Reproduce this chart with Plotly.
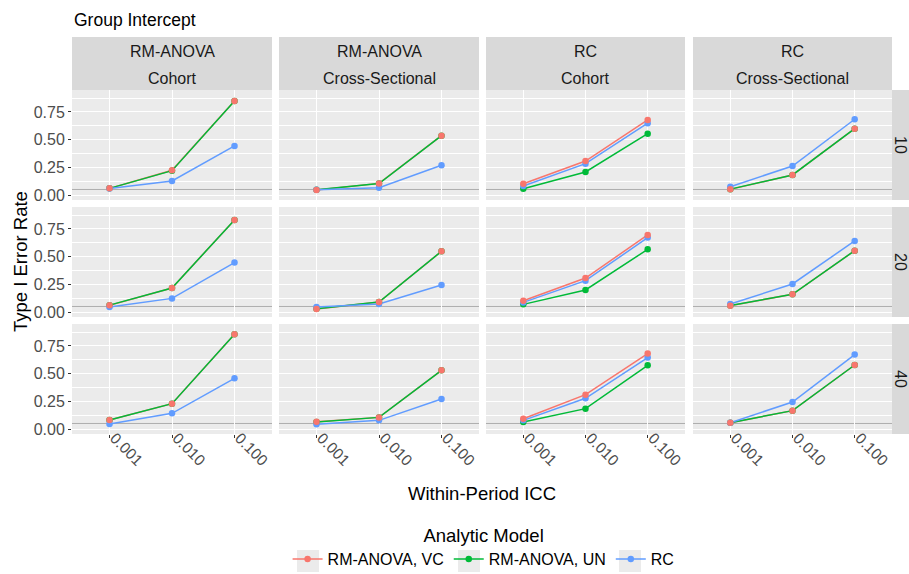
import plotly.graph_objects as go

W, H = 909, 574

# ---------------- data ----------------
icc_levels = ["0.001", "0.010", "0.100"]
method_labels = ["RM-ANOVA", "RM-ANOVA", "RC", "RC"]
design_labels = ["Cohort", "Cross-Sectional", "Cohort", "Cross-Sectional"]
period_labels = ["10", "20", "40"]
model_names = ["RM-ANOVA, VC", "RM-ANOVA, UN", "RC"]

# rows = periods (10, 20, 40); columns = facets in the order above
vc_rate = [
    [[0.060, 0.223, 0.849], [0.045, 0.105, 0.536], [0.102, 0.307, 0.678], [0.051, 0.181, 0.599]],
    [[0.060, 0.217, 0.831], [0.027, 0.090, 0.548], [0.102, 0.307, 0.696], [0.057, 0.160, 0.554]],
    [[0.081, 0.229, 0.855], [0.066, 0.105, 0.530], [0.093, 0.310, 0.681], [0.057, 0.166, 0.578]],
]
un_rate = [
    [[0.060, 0.220, 0.849], [0.047, 0.103, 0.536], [0.057, 0.208, 0.554], [0.053, 0.181, 0.599]],
    [[0.062, 0.217, 0.831], [0.030, 0.090, 0.548], [0.069, 0.199, 0.566], [0.059, 0.160, 0.554]],
    [[0.081, 0.229, 0.855], [0.063, 0.105, 0.530], [0.063, 0.184, 0.575], [0.057, 0.166, 0.578]],
]
rc_rate = [
    [[0.058, 0.127, 0.443], [0.048, 0.066, 0.268], [0.081, 0.283, 0.648], [0.075, 0.262, 0.684]],
    [[0.045, 0.123, 0.446], [0.045, 0.072, 0.244], [0.087, 0.283, 0.672], [0.072, 0.253, 0.642]],
    [[0.045, 0.142, 0.458], [0.042, 0.078, 0.271], [0.078, 0.277, 0.645], [0.057, 0.244, 0.672]],
]
nominal_alpha = 0.05
y_tick_vals = [0.0, 0.25, 0.50, 0.75]
y_tick_text = ["0.00", "0.25", "0.50", "0.75"]
y_minor_vals = [0.125, 0.375, 0.625, 0.875]

# ---------------- style ----------------
colors = ["#F8766D", "#00BA38", "#619CFF"]
FONT = "Liberation Sans, Arial, Helvetica, sans-serif"
col_px = [(72, 272), (279, 479), (486, 685), (693, 892)]
row_px = [(90, 200), (207, 317), (324, 434)]
strip_top = (37, 90)
right_strip = (892, 915)
legend_key_px = [(297, 319), (458, 480), (619, 641)]
legend_key_y = (550, 572)


def fx(p):
    return p / W


def fy(p):
    return 1 - p / H


series = [vc_rate, un_rate, rc_rate]
fig = go.Figure()
layout = {}
shapes = []
annotations = []

for r in range(3):
    for c in range(4):
        idx = r * 4 + c + 1
        xn = "x" if idx == 1 else f"x{idx}"
        yn = "y" if idx == 1 else f"y{idx}"
        # lines: VC, UN, RC
        for s in range(3):
            fig.add_trace(go.Scatter(
                x=icc_levels, y=series[s][r][c], mode="lines",
                line=dict(color=colors[s], width=1.5),
                xaxis=xn, yaxis=yn, showlegend=False, hoverinfo="skip"))
        # points: UN, RC, VC (VC on top)
        for s in [1, 2, 0]:
            fig.add_trace(go.Scatter(
                x=icc_levels, y=series[s][r][c], mode="markers",
                marker=dict(color=colors[s], size=6.5),
                xaxis=xn, yaxis=yn, showlegend=False,
                name=model_names[s]))
        bottom = r == 2
        left = c == 0
        layout["xaxis" if idx == 1 else f"xaxis{idx}"] = dict(
            domain=[fx(col_px[c][0]), fx(col_px[c][1])],
            anchor=yn, type="category", categoryorder="array",
            categoryarray=icc_levels, range=[-0.6, 2.6],
            showgrid=True, gridcolor="white", gridwidth=1.4,
            zeroline=False, showline=False,
            ticks="outside" if bottom else "", ticklen=3, tickwidth=1,
            tickcolor="#333333", showticklabels=bottom, tickangle=45,
            ticklabelstandoff=-15, ticklabelshift=5,
            tickfont=dict(family=FONT, size=15.5, color="#4D4D4D"),
            automargin=False, fixedrange=True)
        layout["yaxis" if idx == 1 else f"yaxis{idx}"] = dict(
            domain=[fy(row_px[r][1]), fy(row_px[r][0])],
            anchor=xn, range=[-0.045, 0.948],
            tickvals=y_tick_vals, ticktext=y_tick_text,
            showgrid=True, gridcolor="white", gridwidth=1.4,
            minor=dict(tickvals=y_minor_vals, showgrid=True,
                       gridcolor="white", gridwidth=0.7, ticks=""),
            zeroline=False, showline=False,
            ticks="outside" if left else "", ticklen=3, tickwidth=1,
            tickcolor="#333333", showticklabels=left,
            tickfont=dict(family=FONT, size=16, color="#4D4D4D"),
            automargin=False, fixedrange=True)
        shapes.append(dict(
            type="line", xref=f"{xn} domain", yref=yn, x0=0, x1=1,
            y0=nominal_alpha, y1=nominal_alpha, layer="below",
            line=dict(color="#ADADAD", width=1)))

# top strips
for c in range(4):
    shapes.append(dict(type="rect", xref="paper", yref="paper",
                       x0=fx(col_px[c][0]), x1=fx(col_px[c][1]),
                       y0=fy(strip_top[1]), y1=fy(strip_top[0]),
                       fillcolor="#D9D9D9", line=dict(width=0), layer="below"))
    xc = fx((col_px[c][0] + col_px[c][1]) / 2)
    annotations.append(dict(x=xc, y=fy(51), xref="paper", yref="paper",
                            text=method_labels[c], showarrow=False,
                            font=dict(family=FONT, size=16, color="#1A1A1A"),
                            xanchor="center", yanchor="middle"))
    annotations.append(dict(x=xc, y=fy(78), xref="paper", yref="paper",
                            text=design_labels[c], showarrow=False,
                            font=dict(family=FONT, size=16, color="#1A1A1A"),
                            xanchor="center", yanchor="middle"))

# right strips
for r in range(3):
    shapes.append(dict(type="rect", xref="paper", yref="paper",
                       x0=fx(right_strip[0]), x1=fx(right_strip[1]),
                       y0=fy(row_px[r][1]), y1=fy(row_px[r][0]),
                       fillcolor="#D9D9D9", line=dict(width=0), layer="below"))
    annotations.append(dict(x=fx(901), y=fy((row_px[r][0] + row_px[r][1]) / 2),
                            xref="paper", yref="paper", text=period_labels[r],
                            showarrow=False, textangle=90,
                            font=dict(family=FONT, size=16, color="#1A1A1A"),
                            xanchor="center", yanchor="middle"))

# legend key backgrounds
for k in legend_key_px:
    shapes.append(dict(type="rect", xref="paper", yref="paper",
                       x0=fx(k[0]), x1=fx(k[1]),
                       y0=fy(legend_key_y[1]), y1=fy(legend_key_y[0]),
                       fillcolor="#EBEBEB", line=dict(width=0), layer="below"))

# titles
annotations.append(dict(x=fx(72), y=fy(20), xref="paper", yref="paper",
                        text="Group Intercept", showarrow=False,
                        font=dict(family=FONT, size=17.5, color="black"),
                        xanchor="left", yanchor="middle"))
annotations.append(dict(x=fx(20), y=fy(262), xref="paper", yref="paper",
                        text="Type I Error Rate", showarrow=False, textangle=-90,
                        font=dict(family=FONT, size=18.5, color="black"),
                        xanchor="center", yanchor="middle"))
annotations.append(dict(x=fx(482), y=fy(493), xref="paper", yref="paper",
                        text="Within-Period ICC", showarrow=False,
                        font=dict(family=FONT, size=18.5, color="black"),
                        xanchor="center", yanchor="middle"))

# legend entries
for s in range(3):
    fig.add_trace(go.Scatter(
        x=[None], y=[None], mode="lines+markers", name=model_names[s],
        line=dict(color=colors[s], width=1.5),
        marker=dict(color=colors[s], size=6.5), showlegend=True))

fig.update_layout(
    width=W, height=H,
    margin=dict(l=0, r=0, t=0, b=0, autoexpand=False),
    paper_bgcolor="white", plot_bgcolor="#EBEBEB",
    font=dict(family=FONT, size=16, color="black"),
    shapes=shapes, annotations=annotations,
    showlegend=True,
    legend=dict(orientation="h", x=0.532, xanchor="center",
                y=fy(518), yanchor="top",
                title=dict(text="Analytic Model", side="top center",
                           font=dict(family=FONT, size=18.5, color="black")),
                font=dict(family=FONT, size=16, color="black"),
                bgcolor="rgba(0,0,0,0)", itemclick=False, itemdoubleclick=False),
    hovermode="closest",
    **layout,
)

fig.write_html("out.html", config={"displayModeBar": False},
               post_script="document.body.style.margin='0';document.body.style.overflow='hidden';")
